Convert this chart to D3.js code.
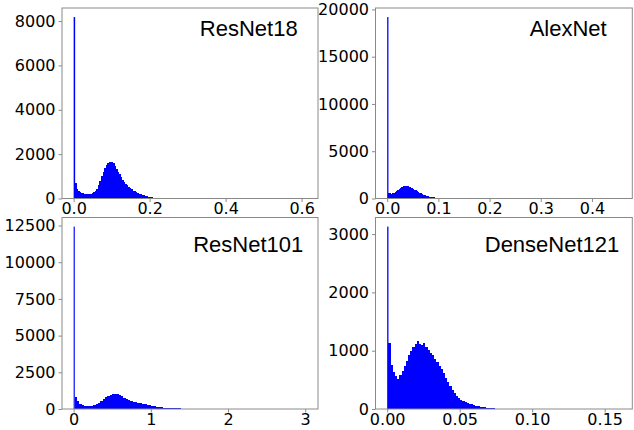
<!DOCTYPE html>
<html>
<head>
<meta charset="utf-8">
<script src="https://cdn.jsdelivr.net/npm/d3@7/dist/d3.min.js"></script>
<style>
  html, body { margin: 0; padding: 0; background: #fff; }
  svg { display: block; }
</style>
</head>
<body>
<svg id="chart" width="634" height="430"></svg>
<script>
// ---------------- DATA ----------------
const titles = ["ResNet18", "AlexNet", "ResNet101", "DenseNet121"];

// count of the narrow first bin at 0 (the spike)
const spikeCounts = [8180, 19190, 12425, 3128];
const spikeWidths = [0.004, 0.0025, 0.015, 0.0009];
// width of the following bins
const binWidths = [0.004, 0.0025, 0.03, 0.0015];
// largest observed value (sets the x range)
const dataMax = [0.6125, 0.456, 3.015, 0.161];

const r18Counts = [700, 450, 340, 290, 260, 240, 225, 215, 210, 215, 225, 245, 280, 340, 450, 600,
  800, 1020, 1200, 1380, 1510, 1600, 1640, 1660, 1630, 1580, 1470, 1340, 1210, 1090, 960, 840, 740,
  660, 590, 520, 460, 410, 360, 320, 280, 245, 215, 190, 165, 140, 120, 100, 80, 62, 48, 36, 26, 18, 10, 5];

const alexCounts = [560, 540, 510, 540, 620, 720, 820, 930, 1040, 1130, 1210, 1270, 1320, 1340, 1330,
  1300, 1250, 1180, 1100, 1020, 940, 860, 780, 700, 620, 550, 480, 420, 360, 310, 265, 225, 190, 160,
  135, 112, 92, 75, 60, 48, 38, 29, 22, 16, 11, 7, 4];

const r101Counts = [850, 520, 350, 270, 215, 190, 180, 195, 240, 320, 430, 560, 690, 800, 890, 950,
  990, 1000, 990, 940, 860, 780, 700, 630, 560, 510, 470, 430, 390, 350, 310, 275, 240, 210, 180, 155,
  135, 118, 102, 90, 80, 70, 62, 55, 48, 40, 32, 25, 18, 10, 5];

const denseCounts = [1140, 760, 640, 560, 520, 580, 650, 740, 830, 920, 1000, 1070, 1120, 1160, 1120,
  1100, 1130, 1060, 1010, 960, 920, 860, 810, 740, 680, 610, 540, 470, 400, 330, 270, 230, 190, 160,
  140, 120, 105, 90, 78, 65, 56, 48, 40, 32, 26, 20, 15, 12, 10, 8, 6, 5, 4, 3];

const r18XTicks = [0, 0.2, 0.4, 0.6];
const alexXTicks = [0, 0.1, 0.2, 0.3, 0.4];
const r101XTicks = [0, 1, 2, 3];
const denseXTicks = [0, 0.05, 0.10, 0.15];
const r18XLabels = ["0.0", "0.2", "0.4", "0.6"];
const alexXLabels = ["0.0", "0.1", "0.2", "0.3", "0.4"];
const r101XLabels = ["0", "1", "2", "3"];
const denseXLabels = ["0.00", "0.05", "0.10", "0.15"];

const r18YTicks = [0, 2000, 4000, 6000, 8000];
const alexYTicks = [0, 5000, 10000, 15000, 20000];
const r101YTicks = [0, 2500, 5000, 7500, 10000, 12500];
const denseYTicks = [0, 1000, 2000, 3000];

// ---------------- LAYOUT ----------------
const counts = [r18Counts, alexCounts, r101Counts, denseCounts];
const xTicks = [r18XTicks, alexXTicks, r101XTicks, denseXTicks];
const xLabels = [r18XLabels, alexXLabels, r101XLabels, denseXLabels];
const yTicks = [r18YTicks, alexYTicks, r101YTicks, denseYTicks];

const boxes = [
  { x0: 62, x1: 318, y0: 8, y1: 198.5 },
  { x0: 375.5, x1: 632.3, y0: 8, y1: 198.5 },
  { x0: 62, x1: 318, y0: 217.5, y1: 409 },
  { x0: 375.5, x1: 632.3, y0: 217.5, y1: 409 }
];
const titlePos = [
  { x: 297.7, y: 36 },
  { x: 606.7, y: 36 },
  { x: 303.3, y: 251.7 },
  { x: 619.3, y: 251.7 }
];

const svg = d3.select("#chart");

for (let p = 0; p < 4; p++) {
  const b = boxes[p];
  const m = dataMax[p] * 0.05;
  const x = d3.scaleLinear().domain([-m, dataMax[p] + m]).range([b.x0, b.x1]);
  const y = d3.scaleLinear().domain([0, spikeCounts[p] * 1.05]).range([b.y1, b.y0]);

  const bins = [{ x0: 0, x1: spikeWidths[p], c: spikeCounts[p] }];
  counts[p].forEach((c, i) => {
    const s = spikeWidths[p] + i * binWidths[p];
    bins.push({ x0: s, x1: s + binWidths[p], c: c });
  });

  const g = svg.append("g");

  g.selectAll("rect.bar").data(bins).enter().append("rect")
    .attr("class", "bar")
    .attr("x", d => x(d.x0))
    .attr("width", d => Math.max(0, x(d.x1) - x(d.x0)))
    .attr("y", d => y(d.c))
    .attr("height", d => y(0) - y(d.c))
    .attr("fill", "#0000ff")
    .attr("shape-rendering", (d, i) => i === 0 ? "auto" : "crispEdges");

  // frame
  g.append("rect")
    .attr("x", b.x0).attr("y", b.y0)
    .attr("width", b.x1 - b.x0).attr("height", b.y1 - b.y0)
    .attr("fill", "none").attr("stroke", "#8a8a8a").attr("stroke-width", 1);

  const xa = g.append("g").attr("transform", `translate(0,${b.y1})`)
    .call(d3.axisBottom(x).tickValues(xTicks[p])
      .tickFormat((d, i) => xLabels[p][i]).tickSize(3.5).tickPadding(1));
  const ya = g.append("g").attr("transform", `translate(${b.x0},0)`)
    .call(d3.axisLeft(y).tickValues(yTicks[p]).tickFormat(d => String(d))
      .tickSize(3.5).tickPadding(3));
  [xa, ya].forEach(a => {
    a.attr("font-family", "DejaVu Sans").attr("font-size", 16);
    a.select(".domain").remove();
    a.selectAll(".tick line").attr("stroke", "#8a8a8a");
    a.selectAll(".tick text").attr("fill", "#000");
  });

  g.append("text")
    .attr("x", titlePos[p].x).attr("y", titlePos[p].y)
    .attr("text-anchor", "end")
    .attr("font-family", "Liberation Sans, Arial, sans-serif")
    .attr("font-size", 22)
    .attr("fill", "#000")
    .text(titles[p]);
}
</script>
</body>
</html>
